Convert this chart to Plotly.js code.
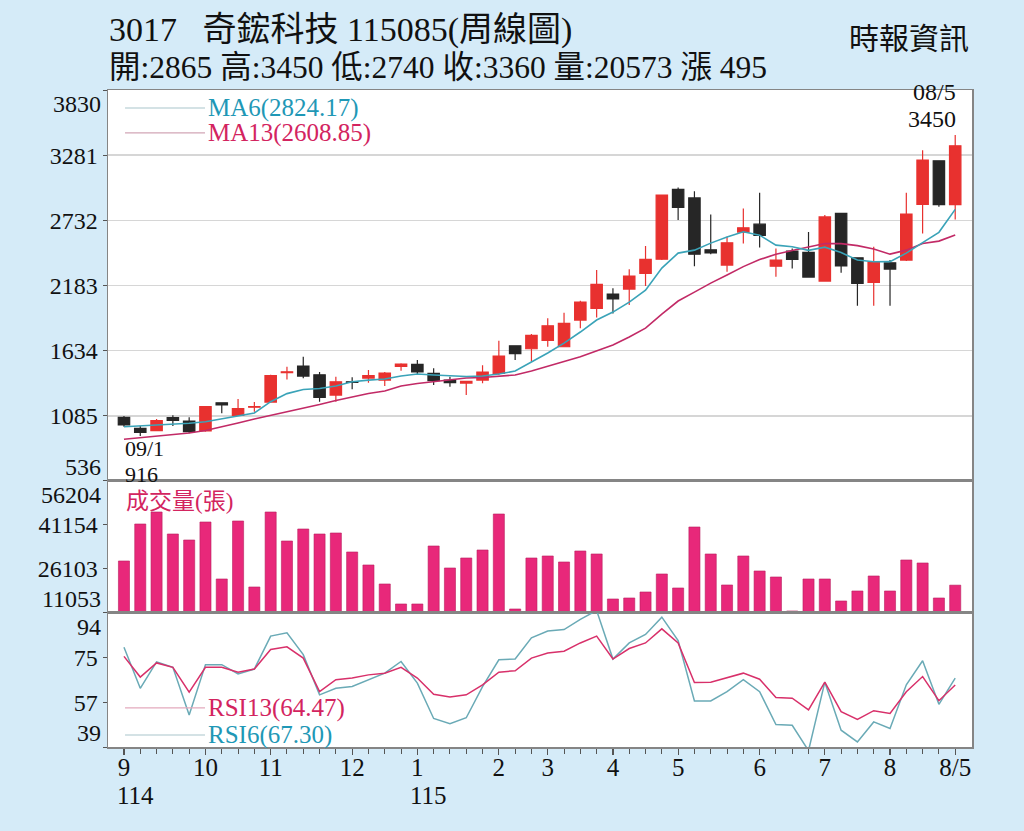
<!DOCTYPE html>
<html>
<head>
<meta charset="utf-8">
<script src="https://cdn.plot.ly/plotly-3.0.1.min.js"></script>
<style>
  html, body { margin: 0; padding: 0; background: #d5ebf8; }
  #chart { width: 1024px; height: 831px; }
</style>
</head>
<body>
<div id="chart"></div>
<script>
// weekly candles, 3017 奇鋐科技
const weekIdx = Array.from({ length: 52 }, (_, i) => i + 1);

const openPx = [1072, 980, 960, 1069, 1041, 957, 1195, 1089, 1157, 1201, 1448, 1504, 1431, 1260, 1372, 1403, 1386, 1502, 1519, 1443,
  1386, 1361, 1386, 1443, 1675, 1650, 1721, 1667, 1892, 1990, 2111, 2153, 2285, 2405, 2992, 2921, 2484, 2355, 2633, 2700,
  2346, 2473, 2462, 2220, 2790, 2416, 2209, 2374, 2397, 2866, 3233, 2865];
const highPx = [1083, 999, 1058, 1089, 1072, 1168, 1197, 1226, 1201, 1431, 1498, 1583, 1454, 1414, 1409, 1471, 1454, 1527, 1555, 1485,
  1414, 1378, 1510, 1717, 1677, 1774, 1906, 1953, 2054, 2313, 2159, 2319, 2515, 2950, 3009, 2978, 2782, 2593, 2832, 2964,
  2495, 2495, 2633, 2776, 2790, 2420, 2509, 2397, 2964, 3323, 3235, 3450];
const lowPx = [993, 916, 954, 999, 938, 951, 1106, 1083, 1120, 1195, 1392, 1401, 1204, 1204, 1308, 1364, 1336, 1465, 1429, 1344,
  1330, 1260, 1359, 1429, 1555, 1540, 1667, 1665, 1822, 1914, 1948, 2018, 2178, 2397, 2734, 2346, 2447, 2298, 2537, 2504,
  2256, 2327, 2254, 2214, 2290, 2012, 2012, 2012, 2390, 2622, 2846, 2740];
const closePx = [1008, 946, 1044, 1047, 951, 1162, 1176, 1145, 1162, 1423, 1456, 1420, 1241, 1372, 1367, 1423, 1445, 1521, 1456, 1381,
  1364, 1375, 1454, 1588, 1608, 1763, 1844, 1864, 2043, 2192, 2071, 2262, 2403, 2944, 2841, 2447, 2458, 2543, 2669, 2605,
  2397, 2403, 2254, 2761, 2349, 2201, 2380, 2321, 2784, 3239, 2865, 3360];

// moving averages as drawn
const ma6 = [993, 999, 1008, 1016, 1022, 1035, 1058, 1083, 1109, 1204, 1272, 1307, 1315, 1336, 1372, 1386, 1395, 1420, 1437, 1429,
  1420, 1416, 1420, 1437, 1462, 1538, 1614, 1698, 1791, 1892, 1959, 2043, 2144, 2330, 2456, 2481, 2540, 2591, 2635, 2607,
  2523, 2509, 2479, 2506, 2460, 2397, 2383, 2384, 2456, 2544, 2631, 2824.17];
const ma13 = [888, 900, 915, 928, 940, 961, 991, 1024, 1058, 1088, 1117, 1151, 1180, 1214, 1243, 1273, 1294, 1336, 1357, 1374,
  1391, 1403, 1408, 1420, 1429, 1462, 1500, 1542, 1583, 1631, 1681, 1749, 1824, 1942, 2052, 2127, 2203, 2271, 2342, 2401,
  2447, 2477, 2506, 2536, 2536, 2519, 2490, 2447, 2481, 2537, 2557, 2608.85];

// weekly volume (張)
const volume = [28837, 41491, 45595, 38071, 36019, 42175, 22681, 42517, 19945, 45595, 35677, 39781, 38071, 38413, 31915, 27469, 20971, 14131, 14131, 33967,
  26443, 29863, 32599, 44911, 12421, 29863, 30547, 28495, 32257, 31231, 15841, 16183, 18235, 24391, 19603, 40465, 31231, 20629, 30547, 25417,
  23365, 11737, 22681, 22681, 15157, 18577, 23707, 18577, 29179, 28153, 16183, 20573];

// RSI lines
const rsi13 = [76.2, 67.7, 73.5, 71.7, 61.5, 71.7, 71.7, 69.7, 71.0, 79.0, 80.1, 75.5, 61.7, 66.6, 67.3, 68.6, 69.3, 71.7, 67.3, 60.6,
  59.5, 60.4, 64.5, 69.7, 70.3, 75.5, 77.6, 78.3, 81.7, 84.5, 75.1, 79.4, 81.7, 87.5, 81.7, 65.5, 65.6, 67.3, 69.3, 66.8,
  59.3, 59.0, 54.2, 65.6, 53.5, 50.3, 53.9, 52.8, 61.7, 67.9, 58.0, 64.47];
const rsi6 = [79.9, 63.1, 73.9, 71.7, 52.1, 72.8, 72.8, 69.0, 71.0, 84.5, 85.9, 76.9, 60.4, 63.1, 63.8, 66.6, 69.3, 74.1, 65.2, 50.7,
  48.6, 51.0, 63.8, 74.8, 75.1, 83.8, 86.6, 87.2, 91.4, 95.0, 75.1, 81.7, 85.2, 92.3, 82.7, 57.9, 57.9, 61.7, 66.6, 61.7,
  48.2, 47.9, 37.5, 65.6, 45.9, 41.1, 49.3, 46.6, 64.5, 74.4, 56.5, 67.30];

// axis ticks
const priceTicks = [536, 1085, 1634, 2183, 2732, 3281, 3830];
const volTicks = [11053, 26103, 41154, 56204];
const rsiTicks = [39, 57.33, 75.67, 94];
const rsiTickText = ['39', '57', '75', '94'];
const monthIdx = [1, 6, 10, 15, 19, 24, 27, 31, 35, 40, 44, 48, 52];
const monthText = ['9', '10', '11', '12', '1', '2', '3', '4', '5', '6', '7', '8', '8/5'];
const yearIdx = [1, 19];
const yearText = ['114', '115'];

const headerLine1 = '3017&nbsp;&nbsp;&nbsp;奇鋐科技 115085(周線圖)';
const headerLine2 = '開:2865 高:3450 低:2740 收:3360 量:20573 漲 495';
const sourceText = '時報資訊';
const hiDate = '08/5';
const loDate = '09/1';

const SERIF = '"Liberation Serif", "Times New Roman", "Noto Sans CJK TC", serif';
const UP = '#e8312f';
const DOWN = '#262626';
const CRIMSON = '#d3245f';
const TEAL_TEXT = '#1f98b6';
const X_RANGE = [0.02, 53.03];

const hiIdx = highPx.indexOf(Math.max(...highPx));
const loIdx = lowPx.indexOf(Math.min(...lowPx));

const traces = [
  {
    type: 'candlestick',
    x: weekIdx, open: openPx, high: highPx, low: lowPx, close: closePx,
    xaxis: 'x', yaxis: 'y',
    increasing: { line: { color: UP, width: 1.2 }, fillcolor: UP },
    decreasing: { line: { color: DOWN, width: 1.2 }, fillcolor: DOWN },
    whiskerwidth: 0,
    hoverinfo: 'skip',
  },
  { type: 'scatter', mode: 'lines', x: weekIdx, y: ma13, xaxis: 'x', yaxis: 'y',
    line: { color: '#c22a66', width: 1.6 }, hoverinfo: 'skip' },
  { type: 'scatter', mode: 'lines', x: weekIdx, y: ma6, xaxis: 'x', yaxis: 'y',
    line: { color: '#3aa3b8', width: 1.6 }, hoverinfo: 'skip' },
  { type: 'bar', x: weekIdx, y: volume, xaxis: 'x2', yaxis: 'y2',
    marker: { color: '#e8287a', line: { color: '#b81f5e', width: 0.6 } }, hoverinfo: 'skip' },
  { type: 'scatter', mode: 'lines', x: weekIdx, y: rsi6, xaxis: 'x3', yaxis: 'y3',
    line: { color: '#6aaab6', width: 1.5 }, hoverinfo: 'skip' },
  { type: 'scatter', mode: 'lines', x: weekIdx, y: rsi13, xaxis: 'x3', yaxis: 'y3',
    line: { color: '#d8306a', width: 1.5 }, hoverinfo: 'skip' },
];

const frame = { showline: true, mirror: true, linecolor: '#858585', linewidth: 1.5, zeroline: false };
const yTickFont = { family: SERIF, size: 24, color: '#111' };
const xTickFont = { family: SERIF, size: 25, color: '#111' };
const edgeText = (ticks, texts) => ticks.map((v, i) => (i === 0 || i === ticks.length - 1) ? '' : texts[i]);

const layout = {
  width: 1024, height: 831,
  margin: { l: 108, r: 52, t: 90, b: 84 },
  paper_bgcolor: '#d5ebf8',
  plot_bgcolor: '#ffffff',
  showlegend: false,
  boxgap: 0.3, boxgroupgap: 0,
  bargap: 0.32,
  xaxis: { ...frame, anchor: 'y', range: X_RANGE, showticklabels: false, ticks: '', showgrid: false,
    rangeslider: { visible: false } },
  xaxis2: { ...frame, anchor: 'y2', range: X_RANGE, showticklabels: false, ticks: '', showgrid: false },
  xaxis3: { ...frame, anchor: 'y3', range: X_RANGE, showgrid: false,
    tickmode: 'array', tickvals: monthIdx, ticktext: monthText,
    ticks: 'outside', ticklen: 6, tickcolor: '#555', tickwidth: 1.2,
    ticklabelstandoff: -9,
    tickfont: xTickFont,
    minor: { tickmode: 'array', tickvals: weekIdx, ticks: 'outside', ticklen: 5, tickcolor: '#555', tickwidth: 1, showgrid: false } },
  yaxis: { ...frame, domain: [0.4049, 1], range: [536, 3830],
    tickmode: 'array', tickvals: priceTicks, ticktext: edgeText(priceTicks, priceTicks.map(String)),
    ticks: 'outside', ticklen: 4, tickcolor: '#555', tickfont: yTickFont,
    showgrid: true, gridcolor: '#d6d6d6', gridwidth: 1.5 },
  yaxis2: { ...frame, domain: [0.204, 0.4049], range: [11053, 56204],
    tickmode: 'array', tickvals: volTicks, ticktext: edgeText(volTicks, volTicks.map(String)),
    ticks: 'outside', ticklen: 4, tickcolor: '#555', tickfont: yTickFont, showgrid: false },
  yaxis3: { ...frame, domain: [0, 0.204], range: [39, 94],
    tickmode: 'array', tickvals: rsiTicks, ticktext: edgeText(rsiTicks, rsiTickText),
    ticks: 'outside', ticklen: 4, tickcolor: '#555', tickfont: yTickFont, showgrid: false },
  shapes: [
    // legend swatches
    { type: 'line', xref: 'paper', yref: 'paper', x0: 0.0197, x1: 0.1123, y0: 0.9726, y1: 0.9726, line: { color: '#a9c6cc', width: 1.2 } },
    { type: 'line', xref: 'paper', yref: 'paper', x0: 0.0197, x1: 0.1123, y0: 0.9346, y1: 0.9346, line: { color: '#d2a6b6', width: 1.2 } },
    { type: 'line', xref: 'paper', yref: 'paper', x0: 0.0197, x1: 0.1123, y0: 0.0594, y1: 0.0594, line: { color: '#e3aabd', width: 1.2 } },
    { type: 'line', xref: 'paper', yref: 'paper', x0: 0.0197, x1: 0.1123, y0: 0.0183, y1: 0.0183, line: { color: '#a9c6cc', width: 1.2 } },
  ],
  annotations: [],
};

const ann = layout.annotations;
const txt = (o) => ann.push({ showarrow: false, borderpad: 0, ...o });

// header
txt({ xref: 'paper', yref: 'paper', x: 0, y: 1.0913, xanchor: 'left', yanchor: 'middle', text: headerLine1,
  font: { family: SERIF, size: 34, color: '#111' } });
txt({ xref: 'paper', yref: 'paper', x: 0, y: 1.035, xanchor: 'left', yanchor: 'middle', text: headerLine2,
  font: { family: SERIF, size: 31.5, color: '#111' } });
txt({ xref: 'paper', yref: 'paper', x: 0.998, y: 1.079, xanchor: 'right', yanchor: 'middle', text: sourceText,
  font: { family: SERIF, size: 30, color: '#111' } });

// legends
txt({ xref: 'paper', yref: 'paper', x: 0.1146, y: 0.9726, xanchor: 'left', yanchor: 'middle',
  text: `MA6(${ma6[ma6.length - 1].toFixed(2)})`, font: { family: SERIF, size: 25, color: TEAL_TEXT } });
txt({ xref: 'paper', yref: 'paper', x: 0.1146, y: 0.9346, xanchor: 'left', yanchor: 'middle',
  text: `MA13(${ma13[ma13.length - 1].toFixed(2)})`, font: { family: SERIF, size: 25, color: CRIMSON } });
txt({ xref: 'paper', yref: 'paper', x: 0.0197, y: 0.3735, xanchor: 'left', yanchor: 'middle',
  text: '成交量(張)', font: { family: SERIF, size: 23, color: CRIMSON } });
txt({ xref: 'paper', yref: 'paper', x: 0.1146, y: 0.0594, xanchor: 'left', yanchor: 'middle',
  text: `RSI13(${rsi13[rsi13.length - 1].toFixed(2)})`, font: { family: SERIF, size: 25, color: CRIMSON } });
txt({ xref: 'paper', yref: 'paper', x: 0.1146, y: 0.0183, xanchor: 'left', yanchor: 'middle',
  text: `RSI6(${rsi6[rsi6.length - 1].toFixed(2)})`, font: { family: SERIF, size: 25, color: TEAL_TEXT } });

// high / low marks
const markFont = { family: SERIF, size: 24, color: '#111' };
const lowFont = { family: SERIF, size: 22, color: '#111' };
txt({ xref: 'x', yref: 'y', x: weekIdx[hiIdx], y: highPx[hiIdx], xanchor: 'right', yanchor: 'bottom',
  xshift: 2, yshift: 2, text: String(highPx[hiIdx]), font: markFont });
txt({ xref: 'x', yref: 'y', x: weekIdx[hiIdx], y: highPx[hiIdx], xanchor: 'right', yanchor: 'bottom',
  xshift: 2, yshift: 29, text: hiDate, font: markFont });
txt({ xref: 'x', yref: 'y', x: weekIdx[loIdx], y: lowPx[loIdx], xanchor: 'left', yanchor: 'top',
  xshift: -16, yshift: 1, text: loDate, font: lowFont });
txt({ xref: 'x', yref: 'y', x: weekIdx[loIdx], y: lowPx[loIdx], xanchor: 'left', yanchor: 'top',
  xshift: -16, yshift: -25, text: String(lowPx[loIdx]), font: lowFont });

// year row under the month ticks
yearIdx.forEach((v, i) => txt({ xref: 'x3', yref: 'paper', x: v, y: -0.074, xanchor: 'left', yanchor: 'middle',
  xshift: -8, text: yearText[i], font: xTickFont }));

// edge tick labels, kept inside their panel
const edgeLabel = (axis, v, text, anchor) => txt({ xref: 'paper', yref: axis, x: 0, y: v, xanchor: 'right', yanchor: anchor,
  xshift: -6, text, font: yTickFont });
edgeLabel('y', priceTicks[0], String(priceTicks[0]), 'bottom');
edgeLabel('y', priceTicks[priceTicks.length - 1], String(priceTicks[priceTicks.length - 1]), 'top');
edgeLabel('y2', volTicks[0], String(volTicks[0]), 'bottom');
edgeLabel('y2', volTicks[volTicks.length - 1], String(volTicks[volTicks.length - 1]), 'top');
edgeLabel('y3', rsiTicks[0], rsiTickText[0], 'bottom');
edgeLabel('y3', rsiTicks[rsiTicks.length - 1], rsiTickText[rsiTickText.length - 1], 'top');

Plotly.newPlot('chart', traces, layout, { displayModeBar: false, staticPlot: true });
</script>
</body>
</html>
